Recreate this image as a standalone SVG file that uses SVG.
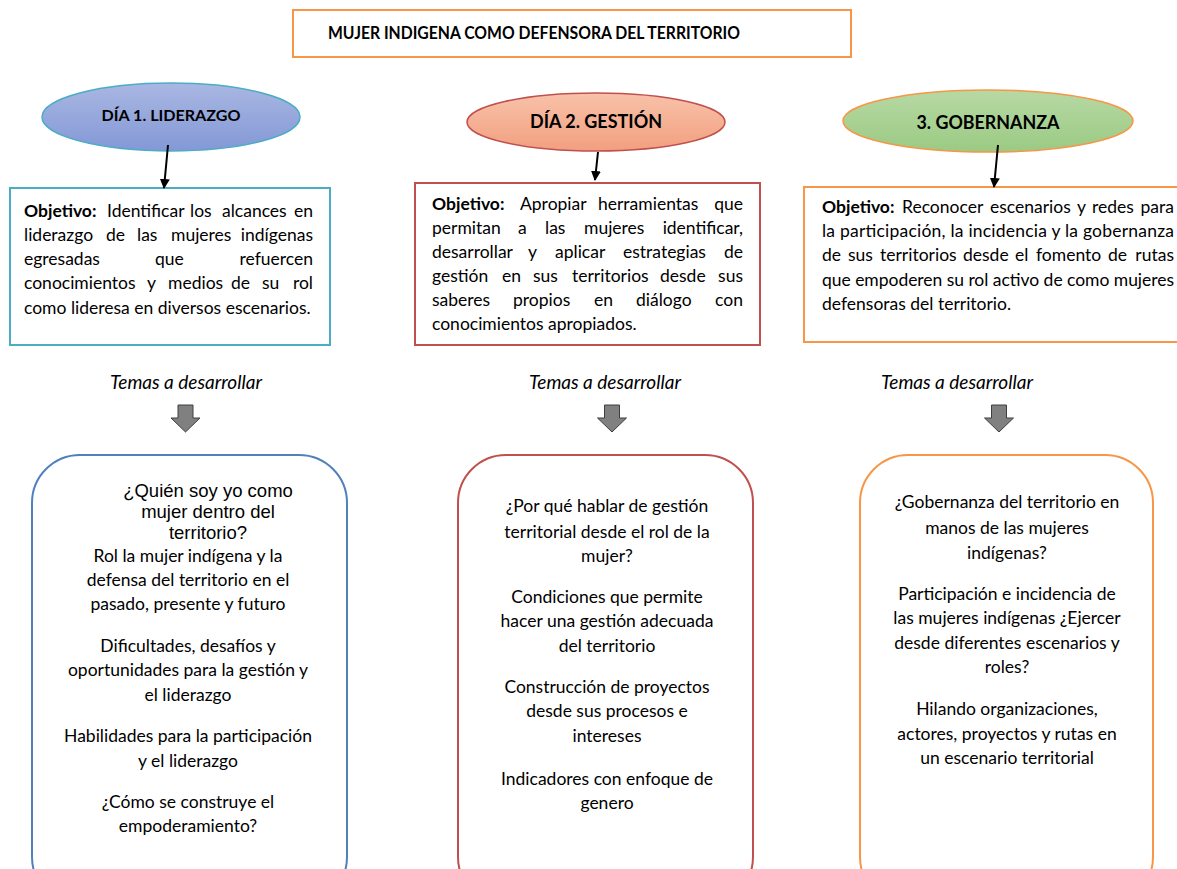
<svg xmlns="http://www.w3.org/2000/svg" width="1177" height="869" viewBox="0 0 1177 869">
<defs>
<linearGradient id="gBlue" x1="0" y1="0" x2="0" y2="1"><stop offset="0" stop-color="#A9B7E2"/><stop offset="1" stop-color="#8398D6"/></linearGradient>
<linearGradient id="gRed" x1="0" y1="0" x2="0" y2="1"><stop offset="0" stop-color="#F8C2A9"/><stop offset="1" stop-color="#F29F80"/></linearGradient>
<linearGradient id="gGreen" x1="0" y1="0" x2="0" y2="1"><stop offset="0" stop-color="#B7D9A4"/><stop offset="1" stop-color="#9BCA83"/></linearGradient>
<marker id="ah" viewBox="0 0 10 10" refX="9" refY="5" markerWidth="5" markerHeight="5" orient="auto"><path d="M0,0 L10,5 L0,10 z" fill="#000"/></marker>
<path id="blk" d="M-7.5,0 h15 v13 h7 l-14.5,14 l-14.5,-14 h7 z" fill="#808080" stroke="#3F3F3F" stroke-width="1"/>
</defs>
<style>
text{font-family:Lato,"Open Sans",sans-serif;fill:#000;}
.b{font-weight:bold;}
.t{font-size:17.5px;}
.c{text-anchor:middle;}
.e{text-anchor:end;}
.ar{font-family:"Liberation Sans",Arial,sans-serif;font-size:18.5px;}
.it{font-style:italic;font-size:18.5px;}
.hd{font-weight:bold;}
</style>
<rect width="1177" height="869" fill="#fff"/>

<g id="title">
<rect x="293" y="10" width="558" height="47" fill="#fff" stroke="#F79646" stroke-width="2"/>
<text class="hd c" x="534" y="39" font-size="16.5" textLength="412" lengthAdjust="spacingAndGlyphs">MUJER INDIGENA COMO DEFENSORA DEL TERRITORIO</text>
</g>

<g id="day1">
<ellipse cx="171" cy="117" rx="129" ry="34" fill="url(#gBlue)" stroke="#4BACC6" stroke-width="1.5"/>
<text class="hd c" x="171" y="121" font-size="16" textLength="139" lengthAdjust="spacingAndGlyphs">DÍA 1. LIDERAZGO</text>
</g>
<g id="day2">
<ellipse cx="596" cy="122" rx="129" ry="29" fill="url(#gRed)" stroke="#C0504D" stroke-width="1.5"/>
<text class="hd c" x="596" y="128" font-size="18.5" textLength="132" lengthAdjust="spacingAndGlyphs">DÍA 2. GESTIÓN</text>
</g>
<g id="day3">
<ellipse cx="988" cy="121" rx="145" ry="31" fill="url(#gGreen)" stroke="#F79646" stroke-width="1.5"/>
<text class="hd c" x="988" y="129" font-size="18.5" textLength="143" lengthAdjust="spacingAndGlyphs">3. GOBERNANZA</text>
</g>

<g id="obj1">
<rect x="10" y="188" width="320" height="157" fill="#fff" stroke="#4BACC6" stroke-width="2"/>
<g class="t">
<text x="24" y="217"><tspan class="b">Objetivo:</tspan><tspan x="107">Identificar</tspan><tspan x="190">los</tspan><tspan x="222">alcances</tspan></text>
<text class="e" x="313" y="217">en</text>
<text x="24" y="241">liderazgo<tspan x="106">de</tspan><tspan x="137">las</tspan><tspan x="171">mujeres</tspan></text>
<text class="e" x="313" y="241">indígenas</text>
<text x="24" y="265">egresadas<tspan x="155">que</tspan></text>
<text class="e" x="313" y="265">refuercen</text>
<text x="24" y="289">conocimientos<tspan x="147">y</tspan><tspan x="168">medios</tspan><tspan x="231">de</tspan><tspan x="262">su</tspan></text>
<text class="e" x="313" y="289">rol</text>
<text x="24" y="314">como lideresa en diversos escenarios.</text>
</g>
</g>

<g id="obj2">
<rect x="415" y="183" width="345" height="162" fill="#fff" stroke="#C0504D" stroke-width="2"/>
<g class="t">
<text x="432" y="210"><tspan class="b">Objetivo:</tspan><tspan x="520">Apropiar</tspan><tspan x="598">herramientas</tspan></text>
<text class="e" x="743" y="210">que</text>
<text x="432" y="234">permitan<tspan x="518">a</tspan><tspan x="545">las</tspan><tspan x="584">mujeres</tspan></text>
<text class="e" x="743" y="234">identificar,</text>
<text x="432" y="258">desarrollar<tspan x="528">y</tspan><tspan x="555">aplicar</tspan><tspan x="623">estrategias</tspan></text>
<text class="e" x="743" y="258">de</text>
<text x="432" y="282">gestión<tspan x="502">en</tspan><tspan x="533">sus</tspan><tspan x="572">territorios</tspan><tspan x="660">desde</tspan></text>
<text class="e" x="743" y="282">sus</text>
<text x="432" y="306">saberes<tspan x="513">propios</tspan><tspan x="594">en</tspan><tspan x="636">diálogo</tspan></text>
<text class="e" x="743" y="306">con</text>
<text x="432" y="330">conocimientos apropiados.</text>
</g>
</g>

<g id="obj3">
<rect x="804" y="187" width="380" height="155" fill="#fff" stroke="#F79646" stroke-width="2"/>
<g class="t">
<text x="822" y="213"><tspan class="b">Objetivo:</tspan><tspan x="902">Reconocer</tspan><tspan x="990">escenarios</tspan><tspan x="1077">y</tspan><tspan x="1092">redes</tspan></text>
<text class="e" x="1174" y="213">para</text>
<text x="822" y="237" textLength="352" lengthAdjust="spacing">la participación, la incidencia y la gobernanza</text>
<text x="822" y="261">de<tspan x="848">sus</tspan><tspan x="880">territorios</tspan><tspan x="963">desde</tspan><tspan x="1015">el</tspan><tspan x="1036">fomento</tspan><tspan x="1108">de</tspan></text>
<text class="e" x="1174" y="261">rutas</text>
<text x="822" y="286" textLength="352" lengthAdjust="spacing">que empoderen su rol activo de como mujeres</text>
<text x="822" y="310">defensoras del territorio.</text>
</g>
</g>

<g id="temas1"><text class="it c" x="186" y="389" textLength="152" lengthAdjust="spacingAndGlyphs">Temas a desarrollar</text></g>
<g id="temas2"><text class="it c" x="605" y="389" textLength="152" lengthAdjust="spacingAndGlyphs">Temas a desarrollar</text></g>
<g id="temas3"><text class="it c" x="957" y="389" textLength="152" lengthAdjust="spacingAndGlyphs">Temas a desarrollar</text></g>

<g id="list1">
<rect x="32" y="455" width="315" height="450" rx="48" fill="#fff" stroke="#4F81BD" stroke-width="2"/>
<text class="ar c" x="208" y="497">¿Quién soy yo como</text>
<text class="ar c" x="208" y="518">mujer dentro del</text>
<text class="ar c" x="208" y="539">territorio?</text>
<g class="t c">
<text x="188" y="562">Rol la mujer indígena y la</text>
<text x="188" y="586">defensa del territorio en el</text>
<text x="188" y="610">pasado, presente y futuro</text>
<text x="188" y="652">Dificultades, desafíos y</text>
<text x="188" y="676">oportunidades para la gestión y</text>
<text x="188" y="701">el liderazgo</text>
<text x="188" y="742">Habilidades para la participación</text>
<text x="188" y="767">y el liderazgo</text>
<text x="188" y="808">¿Cómo se construye el</text>
<text x="188" y="832">empoderamiento?</text>
</g>
</g>

<g id="list2">
<rect x="458" y="455" width="295" height="450" rx="48" fill="#fff" stroke="#C0504D" stroke-width="2"/>
<g class="t c">
<text x="607" y="512">¿Por qué hablar de gestión</text>
<text x="607" y="538">territorial desde el rol de la</text>
<text x="607" y="562">mujer?</text>
<text x="607" y="603">Condiciones que permite</text>
<text x="607" y="627">hacer una gestión adecuada</text>
<text x="607" y="652">del territorio</text>
<text x="607" y="693">Construcción de proyectos</text>
<text x="607" y="717">desde sus procesos e</text>
<text x="607" y="742">intereses</text>
<text x="607" y="785">Indicadores con enfoque de</text>
<text x="607" y="809">genero</text>
</g>
</g>

<g id="list3">
<rect x="860" y="455" width="293" height="450" rx="48" fill="#fff" stroke="#F79646" stroke-width="2"/>
<g class="t c">
<text x="1007" y="508">¿Gobernanza del territorio en</text>
<text x="1007" y="534">manos de las mujeres</text>
<text x="1007" y="559">indígenas?</text>
<text x="1007" y="600">Participación e incidencia de</text>
<text x="1007" y="624">las mujeres indígenas ¿Ejercer</text>
<text x="1007" y="649">desde diferentes escenarios y</text>
<text x="1007" y="673">roles?</text>
<text x="1007" y="715">Hilando organizaciones,</text>
<text x="1007" y="740">actores, proyectos y rutas en</text>
<text x="1007" y="764">un escenario territorial</text>
</g>
</g>

<g id="connectors">
<line x1="168" y1="145" x2="164" y2="188" stroke="#000" stroke-width="2" marker-end="url(#ah)"/>
<line x1="598" y1="152" x2="595" y2="180" stroke="#000" stroke-width="2" marker-end="url(#ah)"/>
<line x1="998" y1="145" x2="994" y2="187" stroke="#000" stroke-width="2" marker-end="url(#ah)"/>
<use href="#blk" x="185.5" y="405"/>
<use href="#blk" x="612" y="405"/>
<use href="#blk" x="999" y="405"/>
</g>
</svg>
